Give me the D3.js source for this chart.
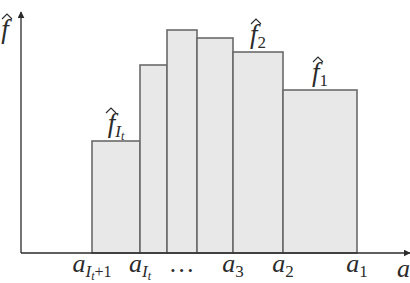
<!DOCTYPE html>
<html>
<head>
<meta charset="utf-8">
<script src="https://cdn.jsdelivr.net/npm/d3@7"></script>
<style>
  body { margin: 0; background: #fff; }
  .serif { font-family: "Liberation Serif", "DejaVu Serif", serif; font-style: italic; }
</style>
</head>
<body>
<svg id="chart" width="410" height="283"></svg>
<script>
// bar edges along the a axis (a_{It+1} ... a_1), in axis units
var edges = [71, 119, 146, 176, 212, 262, 336]
// bar heights f-hat
var heights = [112, 188, 223, 215, 201, 163]
// tick labels under the edges: main, subscript, sub-subscript, suffix
var tickLabels = [
  {edge: 0, main: "a", sub: "I", subsub: "t", tail: "+1"},
  {edge: 1, main: "a", sub: "I", subsub: "t", tail: ""},
  {edge: 2.5, main: "…", sub: "", subsub: "", tail: ""},
  {edge: 4, main: "a", sub: "3", subsub: "", tail: ""},
  {edge: 5, main: "a", sub: "2", subsub: "", tail: ""},
  {edge: 6, main: "a", sub: "1", subsub: "", tail: ""}
]
// labels above some bars
var barLabels = [
  {bar: 0, sub: "I", subsub: "t"},
  {bar: 4, sub: "2", subsub: ""},
  {bar: 5, sub: "1", subsub: ""}
]

var INK = "#2b2b2b"

var svg = d3.select("#chart")
var x0 = 21, y0 = 253

var x = d3.scaleLinear().domain([0, 389]).range([x0, 410])
var y = d3.scaleLinear().domain([0, 240]).range([y0, 13])

var bars = d3.range(heights.length).map(function(i){
  return {l: edges[i], r: edges[i+1], h: heights[i]}
})

svg.selectAll("rect.bar")
    .data(bars)
  .enter().append("rect")
    .attr("class", "bar")
    .attr("x", function(d){ return x(d.l) })
    .attr("y", function(d){ return y(d.h) })
    .attr("width", function(d){ return x(d.r) - x(d.l) })
    .attr("height", function(d){ return y(0) - y(d.h) })
    .style("fill", "#e8e8e8")
    .style("stroke", "#6a6a6a")
    .style("stroke-width", 1.6)

// axes with arrow heads
var defs = svg.append("defs")
defs.append("marker")
    .attr("id", "arr")
    .attr("viewBox", "0 0 10 10")
    .attr("refX", 9).attr("refY", 5)
    .attr("markerWidth", 7).attr("markerHeight", 7)
    .attr("markerUnits", "userSpaceOnUse")
    .attr("orient", "auto")
  .append("path")
    .attr("d", "M0,0 L10,5 L0,10 z")
    .style("fill", INK)

svg.append("line")
    .attr("x1", x0).attr("y1", y0).attr("x2", x0).attr("y2", 12)
    .style("stroke", INK).style("stroke-width", 1.3)
    .attr("marker-end", "url(#arr)")
svg.append("line")
    .attr("x1", x0).attr("y1", y0).attr("x2", 410).attr("y2", y0)
    .style("stroke", INK).style("stroke-width", 1.3)
    .attr("marker-end", "url(#arr)")

var edgeX = function(e){
  var lo = Math.floor(e), hi = Math.ceil(e)
  return (x(edges[lo]) + x(edges[hi])) / 2
}

var styleText = function(sel, size){
  return sel.attr("class", "serif")
      .attr("font-family", "Liberation Serif")
      .style("fill", INK).style("font-size", size)
}

// tick labels
var ticks = svg.selectAll("text.tick")
    .data(tickLabels)
  .enter().append("text")
    .attr("x", function(d){ return edgeX(d.edge) })
    .attr("y", 272)
    .attr("text-anchor", "middle")
styleText(ticks, "26px")
ticks.append("tspan").text(function(d){ return d.main })
ticks.append("tspan")
    .attr("dy", 5)
    .style("font-size", "17px")
    .style("font-style", function(d){ return d.sub == "I" ? "italic" : "normal" })
    .text(function(d){ return d.sub })
ticks.append("tspan")
    .attr("dy", 3)
    .style("font-size", "12px")
    .text(function(d){ return d.subsub })
ticks.append("tspan")
    .attr("dy", -3)
    .style("font-size", "16px")
    .style("font-style", "normal")
    .text(function(d){ return d.tail })

// axis name a
styleText(svg.append("text"), "26px")
    .attr("x", 397).attr("y", 277)
    .text("a")

// f-hat labels; the hat is drawn as a small path over the f
var hatLabel = function(cx, base, sub, subsub){
  var t = styleText(svg.append("text"), "27px")
      .attr("x", cx).attr("y", base)
      .attr("text-anchor", "middle")
  t.append("tspan").text("f")
  if (sub) {
    t.append("tspan").attr("dy", 5).style("font-size", "17px")
        .style("font-style", sub == "I" ? "italic" : "normal").text(sub)
  }
  if (subsub) {
    t.append("tspan").attr("dy", 3).style("font-size", "12px").text(subsub)
  }
  var fx = cx - (sub ? (subsub ? 7 : 4) : 0) + 2
  var hy = base - 23
  svg.append("path")
      .attr("d", "M" + (fx - 5) + "," + (hy + 4) + " L" + fx + "," + (hy - 1) + " L" + (fx + 5) + "," + (hy + 4))
      .style("fill", "none").style("stroke", INK).style("stroke-width", 1.1)
}

barLabels.forEach(function(d){
  var b = bars[d.bar]
  hatLabel((x(b.l) + x(b.r)) / 2, y(b.h) - 9, d.sub, d.subsub)
})

// y axis name
hatLabel(5, 38, "", "")
</script>
</body>
</html>
